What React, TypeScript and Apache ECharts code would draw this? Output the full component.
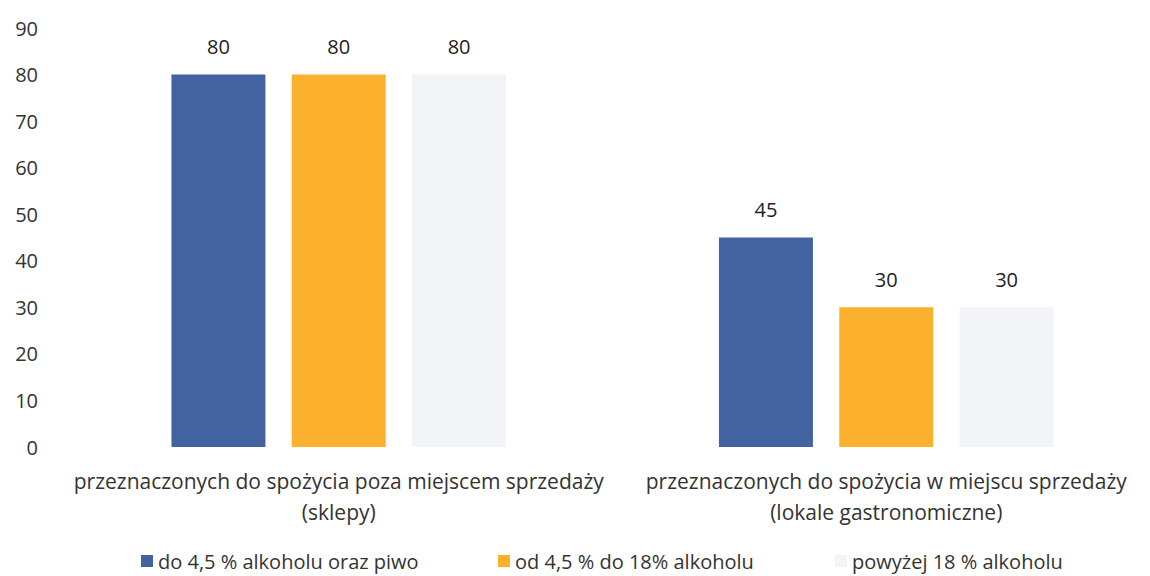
import React, { useEffect, useRef } from "react";
import * as echarts from "echarts";

const categories = [
  "przeznaczonych do spożycia poza miejscem sprzedaży\n(sklepy)",
  "przeznaczonych do spożycia w miejscu sprzedaży\n(lokale gastronomiczne)",
];
const seriesNames = [
  "do 4,5 % alkoholu oraz piwo",
  "od 4,5 % do 18% alkoholu",
  "powyżej 18 % alkoholu",
];
const beer = [80, 45];
const wine = [80, 30];
const spirits = [80, 30];
const colors = ["#4263a0", "#fbb12e", "#f3f4f8"];

export default function App() {
  const ref = useRef<HTMLDivElement>(null);
  useEffect(() => {
    if (!ref.current) return;
    const chart = echarts.init(ref.current, null, { renderer: "svg" });
    const font = "Open Sans";
    const values = [beer, wine, spirits];
    const legendLefts = [136, 493, 830];
    chart.setOption({
      animation: false,
      textStyle: { fontFamily: font },
      grid: { left: 65, right: -10, top: 28, bottom: 129, outerBoundsMode: "none", containLabel: false },
      legend: seriesNames.map((name, i) => ({
        bottom: 0,
        left: legendLefts[i],
        itemWidth: 12,
        itemHeight: 12,
        itemGap: 5,
        icon: "rect",
        textStyle: { fontSize: 20, color: "#333", fontFamily: font },
        data: [name],
      })),
      xAxis: {
        type: "category",
        data: categories,
        axisLine: { show: false },
        axisTick: { show: false },
        axisLabel: {
          interval: 0,
          fontSize: 21,
          color: "#333",
          lineHeight: 31,
          margin: 18,
          fontFamily: font,
        },
      },
      yAxis: {
        type: "value",
        min: 0,
        max: 90,
        interval: 10,
        splitLine: { show: false },
        axisLine: { show: false },
        axisTick: { show: false },
        axisLabel: { fontSize: 20, color: "#333", margin: 27, fontFamily: font },
      },
      series: seriesNames.map((name, i) => ({
        name,
        type: "bar",
        data: values[i],
        barWidth: 94,
        barGap: "28%",
        itemStyle: { color: colors[i] },
        label: {
          show: true,
          position: "top",
          distance: 18,
          fontSize: 20,
          color: "#222",
          fontFamily: font,
        },
      })),
    });
    return () => chart.dispose();
  }, []);
  return (
    <div
      ref={ref}
      style={{ position: "fixed", left: 0, top: 0, width: 1150, height: 576, background: "#fff" }}
    />
  );
}
